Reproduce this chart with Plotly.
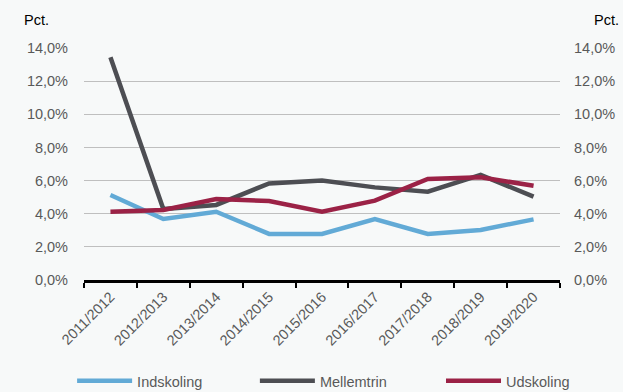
import plotly.graph_objects as go

categories = ["2011/2012", "2012/2013", "2013/2014", "2014/2015", "2015/2016",
              "2016/2017", "2017/2018", "2018/2019", "2019/2020"]
indskoling = [5.13, 3.68, 4.12, 2.78, 2.78, 3.68, 2.78, 3.02, 3.66]
mellemtrin = [13.44, 4.28, 4.53, 5.83, 6.00, 5.59, 5.33, 6.34, 5.03]
udskoling = [4.12, 4.22, 4.89, 4.77, 4.12, 4.79, 6.10, 6.20, 5.69]
y_ticks = [0, 2, 4, 6, 8, 10, 12, 14]
y_ticktext = [f"{v:.1f}".replace(".", ",") + "%" for v in y_ticks]

series = [
    ("Indskoling", indskoling, "#62AAD6", "legend", -0.025),
    ("Mellemtrin", mellemtrin, "#4D4E53", "legend2", 0.359),
    ("Udskoling", udskoling, "#9B2246", "legend3", 0.750),
]

FONT = "Liberation Sans, Arial, sans-serif"
GREY = "#595959"
FS = 14.5
BG = "#F7F9F9"

fig = go.Figure()
for name, vals, col, lg, _ in series:
    fig.add_trace(go.Scatter(x=categories, y=vals, name=name, mode="lines",
                             line=dict(color=col, width=4.5), legend=lg))
# invisible trace for right axis
fig.add_trace(go.Scatter(x=categories, y=udskoling, yaxis="y2", mode="lines",
                         line=dict(width=0), opacity=0, showlegend=False,
                         hoverinfo="skip"))

yax = dict(range=[0, 14], tickvals=y_ticks, ticktext=y_ticktext,
           showgrid=True, gridcolor="#BFBFBF", gridwidth=1, zeroline=False,
           showline=False, ticks="", automargin=False,
           tickfont=dict(family=FONT, size=FS, color=GREY))

legend_common = dict(orientation="h", y=-0.435, yanchor="middle", xanchor="left",
                     itemwidth=55,
                     font=dict(family=FONT, size=FS, color=GREY),
                     bgcolor="rgba(0,0,0,0)")

layout_legends = {}
for name, vals, col, lg, lx in series:
    layout_legends[lg] = dict(legend_common, x=lx)

fig.update_layout(
    width=623, height=392,
    margin=dict(l=84, r=63, t=48, b=112, autoexpand=False),
    paper_bgcolor=BG, plot_bgcolor=BG,
    font=dict(family=FONT, size=FS, color=GREY),
    xaxis=dict(type="category", range=[-0.5, 8.5], tickson="boundaries",
               ticks="outside", ticklen=5, tickwidth=2, tickcolor="black",
               showline=True, linecolor="black", linewidth=2.5, showgrid=False,
               tickangle=-45, automargin=False,
               tickfont=dict(family=FONT, size=FS, color=GREY)),
    yaxis=dict(yax, ticklabelstandoff=15),
    yaxis2=dict(yax, overlaying="y", side="right", showgrid=False, ticklabelstandoff=13),
    showlegend=True,
    annotations=[
        dict(text="Pct.", xref="paper", yref="paper", x=-0.130, y=1.0, yshift=28,
             xanchor="left", yanchor="middle", showarrow=False,
             font=dict(family=FONT, size=FS, color="black")),
        dict(text="Pct.", xref="paper", yref="paper", x=1.128, y=1.0, yshift=28,
             xanchor="right", yanchor="middle", showarrow=False,
             font=dict(family=FONT, size=FS, color="black")),
    ],
    **layout_legends,
)

fig.write_html(
    "out.html",
    config={"displayModeBar": False},
    post_script="document.body.style.margin='0';document.body.style.background='%s';" % BG,
)
